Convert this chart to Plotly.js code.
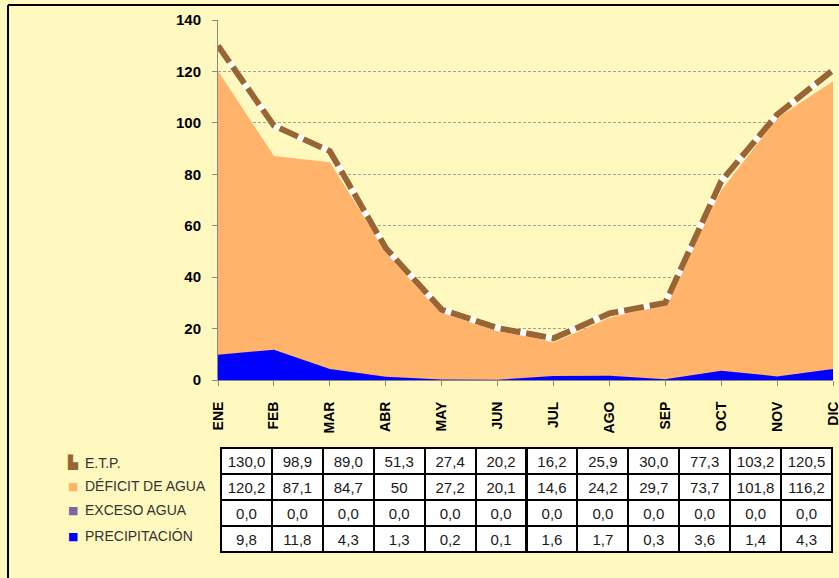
<!DOCTYPE html>
<html>
<head>
<meta charset="utf-8">
<script src="https://cdn.plot.ly/plotly-3.0.1.min.js"></script>
<style>
html,body{margin:0;padding:0;background:#FFF9C0;}
#chart{width:839px;height:578px;}
</style>
</head>
<body>
<div id="chart"></div>
<script>
const months = ["ENE","FEB","MAR","ABR","MAY","JUN","JUL","AGO","SEP","OCT","NOV","DIC"];
const etp = [130.0, 98.9, 89.0, 51.3, 27.4, 20.2, 16.2, 25.9, 30.0, 77.3, 103.2, 120.5];
const deficit = [120.2, 87.1, 84.7, 50, 27.2, 20.1, 14.6, 24.2, 29.7, 73.7, 101.8, 116.2];
const exceso = [0.0, 0.0, 0.0, 0.0, 0.0, 0.0, 0.0, 0.0, 0.0, 0.0, 0.0, 0.0];
const precip = [9.8, 11.8, 4.3, 1.3, 0.2, 0.1, 1.6, 1.7, 0.3, 3.6, 1.4, 4.3];

const etpLabels = ["130,0","98,9","89,0","51,3","27,4","20,2","16,2","25,9","30,0","77,3","103,2","120,5"];
const deficitLabels = ["120,2","87,1","84,7","50","27,2","20,1","14,6","24,2","29,7","73,7","101,8","116,2"];
const excesoLabels = ["0,0","0,0","0,0","0,0","0,0","0,0","0,0","0,0","0,0","0,0","0,0","0,0"];
const precipLabels = ["9,8","11,8","4,3","1,3","0,2","0,1","1,6","1,7","0,3","3,6","1,4","4,3"];

const seriesNames = ["E.T.P.","DÉFICIT DE AGUA","EXCESO AGUA","PRECIPITACIÓN"];
const seriesColors = ["#996633","#FFB36B","#8064A2","#0000FF"];
const legendSymbols = ["▙","■","■","■"];

const W = 839, H = 578;
const px = v => v / W;
const py = v => (H - v) / H;

const tableFont = {family:'Liberation Sans Narrow, Liberation Sans, Arial', size:15, color:'#1a1a1a'};

const traces = [
  {x: months, y: deficit, type:'scatter', mode:'lines', fill:'tozeroy',
   fillcolor: seriesColors[1], line:{width:0, color: seriesColors[1]}, name: seriesNames[1], hoverinfo:'skip'},
  {x: months, y: exceso, type:'scatter', mode:'lines', fill:'tozeroy',
   fillcolor: seriesColors[2], line:{width:0, color: seriesColors[2]}, name: seriesNames[2], hoverinfo:'skip'},
  {x: months, y: precip, type:'scatter', mode:'lines', fill:'tozeroy',
   fillcolor: seriesColors[3], line:{width:0, color: seriesColors[3]}, name: seriesNames[3], hoverinfo:'skip'},
  {x: months, y: etp, type:'scatter', mode:'lines', line:{width:6, color:'#FFFFFF'}, hoverinfo:'skip', showlegend:false},
  {x: months, y: etp, type:'scatter', mode:'lines', line:{width:6, color: seriesColors[0], dash:'20px,6px'}, name: seriesNames[0], hoverinfo:'skip'},
  {type:'table',
   domain:{x:[px(221), px(832)], y:[py(553), py(448)]},
   columnwidth: months.map(() => 1),
   header:{values: etpLabels.map(v => [v]), height:26, align:'center',
     fill:{color:'#FFFFFF'}, line:{color:'#000000', width:2}, font: tableFont},
   cells:{values: months.map((m,i) => [deficitLabels[i], excesoLabels[i], precipLabels[i]]), height:26, align:'center',
     fill:{color:'#FFFFFF'}, line:{color:'#000000', width:2}, font: tableFont}
  }
];

const legendY = [463, 486, 510, 536];
const annotations = [];
seriesNames.forEach((n, i) => {
  annotations.push({
    xref:'paper', yref:'paper', x: px(72.5), y: py(legendY[i]), xanchor:'center', yanchor:'middle',
    showarrow:false, text: legendSymbols[i],
    font:{family:'DejaVu Sans', size: i === 0 ? 13 : 11, color: seriesColors[i]}
  });
  annotations.push({
    xref:'paper', yref:'paper', x: px(83), y: py(legendY[i]), xanchor:'left', yanchor:'middle',
    showarrow:false, align:'left', text: n,
    font:{family:'Liberation Sans, Arial', size:14, color:'#333333'}
  });
});

const layout = {
  width: W, height: H,
  margin:{l:0, r:0, t:0, b:0},
  paper_bgcolor:'#FFF9C0', plot_bgcolor:'#FFF9C0',
  showlegend:false,
  xaxis:{domain:[px(218), px(833)], type:'category', range:[0, 11],
    showgrid:false, showline:true, linecolor:'#888888', linewidth:1,
    ticks:'outside', ticklen:5, tickcolor:'#888888', tickangle:-90, ticklabelstandoff:10,
    tickfont:{family:'Liberation Sans, Arial', size:14, color:'#000000', weight:'bold'},
    zeroline:false, fixedrange:true},
  yaxis:{domain:[py(380), py(20)], range:[0, 140], dtick:20,
    showgrid:true, gridcolor:'#A0A0A0', griddash:'3px,2px', gridwidth:1,
    showline:true, linecolor:'#888888', linewidth:1,
    ticks:'outside', ticklen:5, tickcolor:'#888888', ticklabelstandoff:8,
    tickfont:{family:'Liberation Sans, Arial', size:15, color:'#000000', weight:'bold'},
    zeroline:false, fixedrange:true},
  shapes:[
    {type:'line', xref:'paper', yref:'paper', x0: px(8), x1: 1.01, y0: py(5), y1: py(5), line:{color:'#000000', width:2}},
    {type:'line', xref:'paper', yref:'paper', x0: px(8), x1: px(8), y0: py(5), y1: -0.01, line:{color:'#000000', width:2}}
  ],
  annotations: annotations
};

Plotly.newPlot('chart', traces, layout, {displayModeBar:false, staticPlot:true});
</script>
</body>
</html>
